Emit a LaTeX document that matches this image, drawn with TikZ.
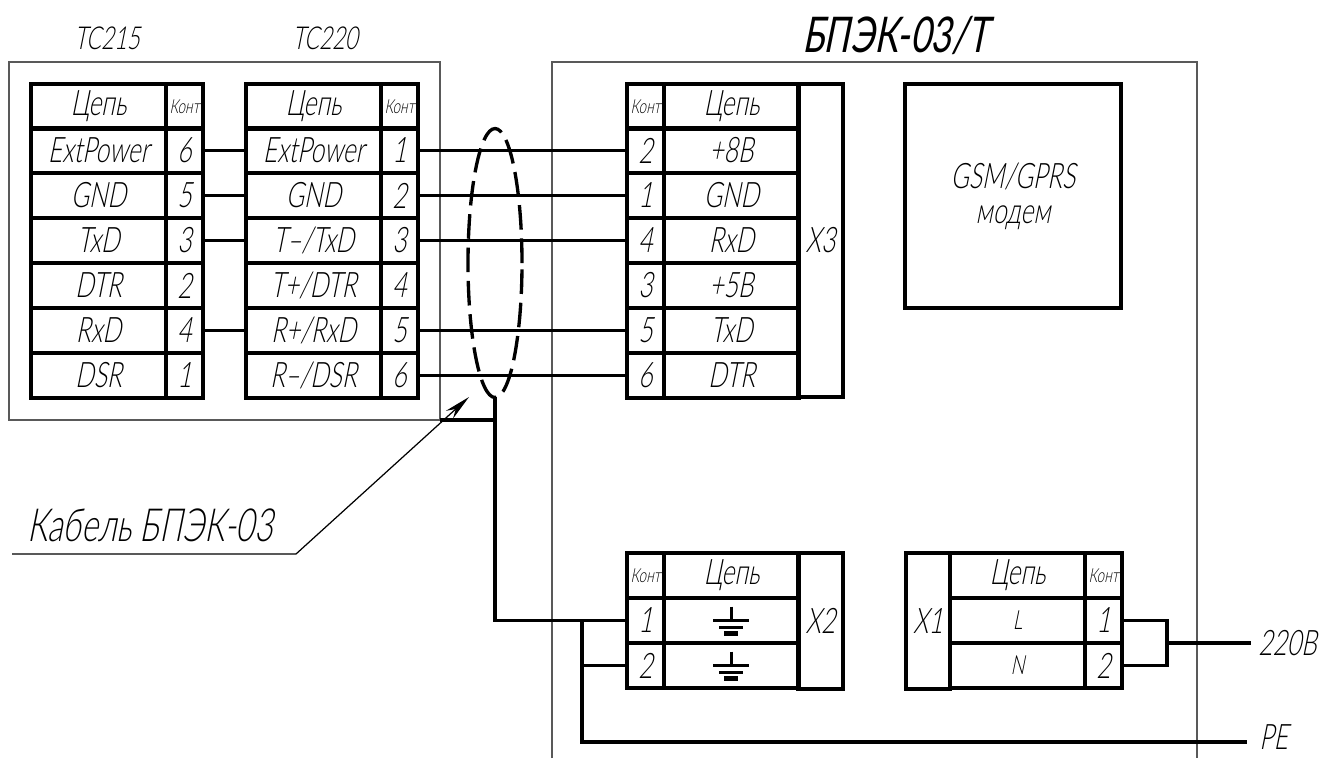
\documentclass[tikz,border=0pt]{standalone}
\usepackage{fontspec}
\setmainfont{Lato Light}[FakeStretch=0.7,FakeSlant=0.2]
\newfontfamily\titelfont{Lato}[FakeStretch=0.72,FakeSlant=0.2]
\usetikzlibrary{arrows.meta,calc,positioning,shapes.geometric}
\tikzset{
  rahmen/.style={draw=black!65,line width=0.6pt},
  zelle/.style={draw,line width=2pt,anchor=north west,inner sep=0pt,outer sep=0pt,font=\fontsize{20}{20}\selectfont},
  kont/.style={zelle,minimum width=0.74cm,minimum height=0.9cm},
  kontkopf/.style={kont,font=\fontsize{11}{12}\selectfont},
  netz/.style={zelle,minimum width=2.7cm,minimum height=0.9cm},
  seite/.style={zelle,minimum width=0.9cm},
  leitung/.style={line width=2pt},
  schirm/.style={draw,ellipse,inner sep=0pt,outer sep=0pt,line width=1.9pt,dash pattern=on 14pt off 5pt},
  beschr/.style={font=\fontsize{20}{20}\selectfont,inner sep=0pt}
}
% Zeile: Leiste, x, y, Kontakt, Text
\newcommand{\ZeileR}[5]{%
  \node[netz] (#1-n#4) at (#2,#3) {#5};
  \node[kont] (#1-#4) at (#2+135,#3) {#4};
}
\newcommand{\ZeileL}[5]{%
  \node[kont] (#1-#4) at (#2,#3) {#4};
  \node[netz] (#1-n#4) at (#2+37,#3) {#5};
}
\newcommand{\Erde}[1]{%
  \draw[line width=1.6pt] (#1.center) ++(0,-14) -- ++(0,14);
  \draw[line width=2pt] (#1.center) ++(-18,0) -- ++(36,0);
  \draw[line width=2pt] (#1.center) ++(-12,7) -- ++(24,0);
  \draw[line width=3pt] (#1.center) ++(-7,13) -- ++(14,0);
}
\begin{document}
\begin{tikzpicture}[x=0.02cm,y=-0.02cm]
\useasboundingbox (0,0) rectangle (1321,758);
%Rahmen
\draw[rahmen] (9,62) rectangle (440,420);
\draw[rahmen] (552,758) -- (552,62) -- (1197,62) -- (1197,758);
\node[font=\fontsize{18}{20}\selectfont,inner sep=0pt] (tc215) at (107,38) {TC215};
\node[font=\fontsize{18}{20}\selectfont,inner sep=0pt] (tc220) at (325,38) {TC220};
\node[font=\titelfont\fontsize{28}{30}\selectfont] (bpek) at (895,35) {БПЭК-03/Т};
%Leisten TC215 und TC220
\node[netz] (a-kopf) at (31,84) {Цепь};
\node[kontkopf] (a-k) at (166,84) {Конт};
\node[netz] (b-kopf) at (246,84) {Цепь};
\node[kontkopf] (b-k) at (381,84) {Конт};
\foreach \pin/\txt/\y in {6/ExtPower/128,5/GND/173,3/TxD/218,2/DTR/263,4/RxD/308,1/DSR/353}{
  \ZeileR{a}{31}{\y}{\pin}{\txt}
}
\foreach \pin/\txt/\y in {1/ExtPower/128,2/GND/173,3/{T--/TxD}/218,4/{T+/DTR}/263,5/{R+/RxD}/308,6/{R--/DSR}/353}{
  \ZeileR{b}{246}{\y}{\pin}{\txt}
}
%Leiste X3
\node[kontkopf] (c-k) at (627,84) {Конт};
\node[netz] (c-kopf) at (664,84) {Цепь};
\foreach \pin/\txt/\y in {2/+8В/128,1/GND/173,4/RxD/218,3/+5В/263,5/TxD/308,6/DTR/353}{
  \ZeileL{c}{627}{\y}{\pin}{\txt}
}
\node[seite,minimum height=6.26cm] (x3) at (798,84) {X3};
\node[zelle,minimum width=4.32cm,minimum height=4.48cm,align=center] (modem) at (905,84) {GSM/GPRS\\модем};
%Leiste X2
\node[kontkopf] (d-k) at (627,553) {Конт};
\node[netz] (d-kopf) at (664,553) {Цепь};
\ZeileL{d}{627}{598}{1}{}
\ZeileL{d}{627}{643}{2}{}
\node[seite,minimum height=2.72cm] (x2) at (798,553) {X2};
\Erde{d-n1}
\Erde{d-n2}
%Leiste X1
\node[seite,minimum height=2.72cm,minimum width=0.88cm] (x1) at (906,553) {X1};
\node[netz] (e-kopf) at (950,553) {Цепь};
\node[kontkopf] (e-k) at (1085,553) {Конт};
\ZeileR{e}{950}{598}{1}{\fontsize{15}{16}\selectfont L}
\ZeileR{e}{950}{643}{2}{\fontsize{15}{16}\selectfont N}
%Verbindungen
\foreach \von/\nach in {6/1,5/2,3/3,4/5}{
  \draw[leitung] (a-\von.east) -- (b-n\nach.west);
}
\foreach \von/\nach in {1/2,2/1,3/4,5/5,6/6}{
  \draw[leitung] (b-\von.east) -- (c-\nach.west);
}
\node[schirm,minimum width=1.08cm,minimum height=5.38cm] (kabel) at (495,263) {};
\coordinate (eckeL) at (440,420);
\coordinate (abzw) at (582,621);
\coordinate (knick) at (1167,643);
\node[beschr,anchor=west] (v220) at (1258,643) {220В};
\node[beschr,anchor=west] (pe) at (1259,737) {PE};
\draw[leitung] (kabel.south) -- (kabel.south |- d-1.west) -- (d-1.west);
\draw[leitung] (eckeL) -- (eckeL -| kabel.south);
\draw[leitung] (abzw) |- (d-2.west);
\draw[leitung] (abzw) |- (1247,742);
\draw[leitung] (e-1.east) -| (knick) |- (e-2.east);
\draw[leitung] (knick) -- (1251,643);
%Hinweis Kabel
\node[font=\fontsize{26}{28}\selectfont,inner sep=0pt] (hinweis) at (150,525) {Кабель БПЭК-03};
\coordinate (h-a) at (12,554);
\coordinate (h-b) at (296,554);
\coordinate (h-c) at (469,397);
\draw[line width=0.7pt,-{Stealth[length=15pt,width=6pt]}] (h-a) -- (h-b) -- (h-c);
\end{tikzpicture}
\end{document}
